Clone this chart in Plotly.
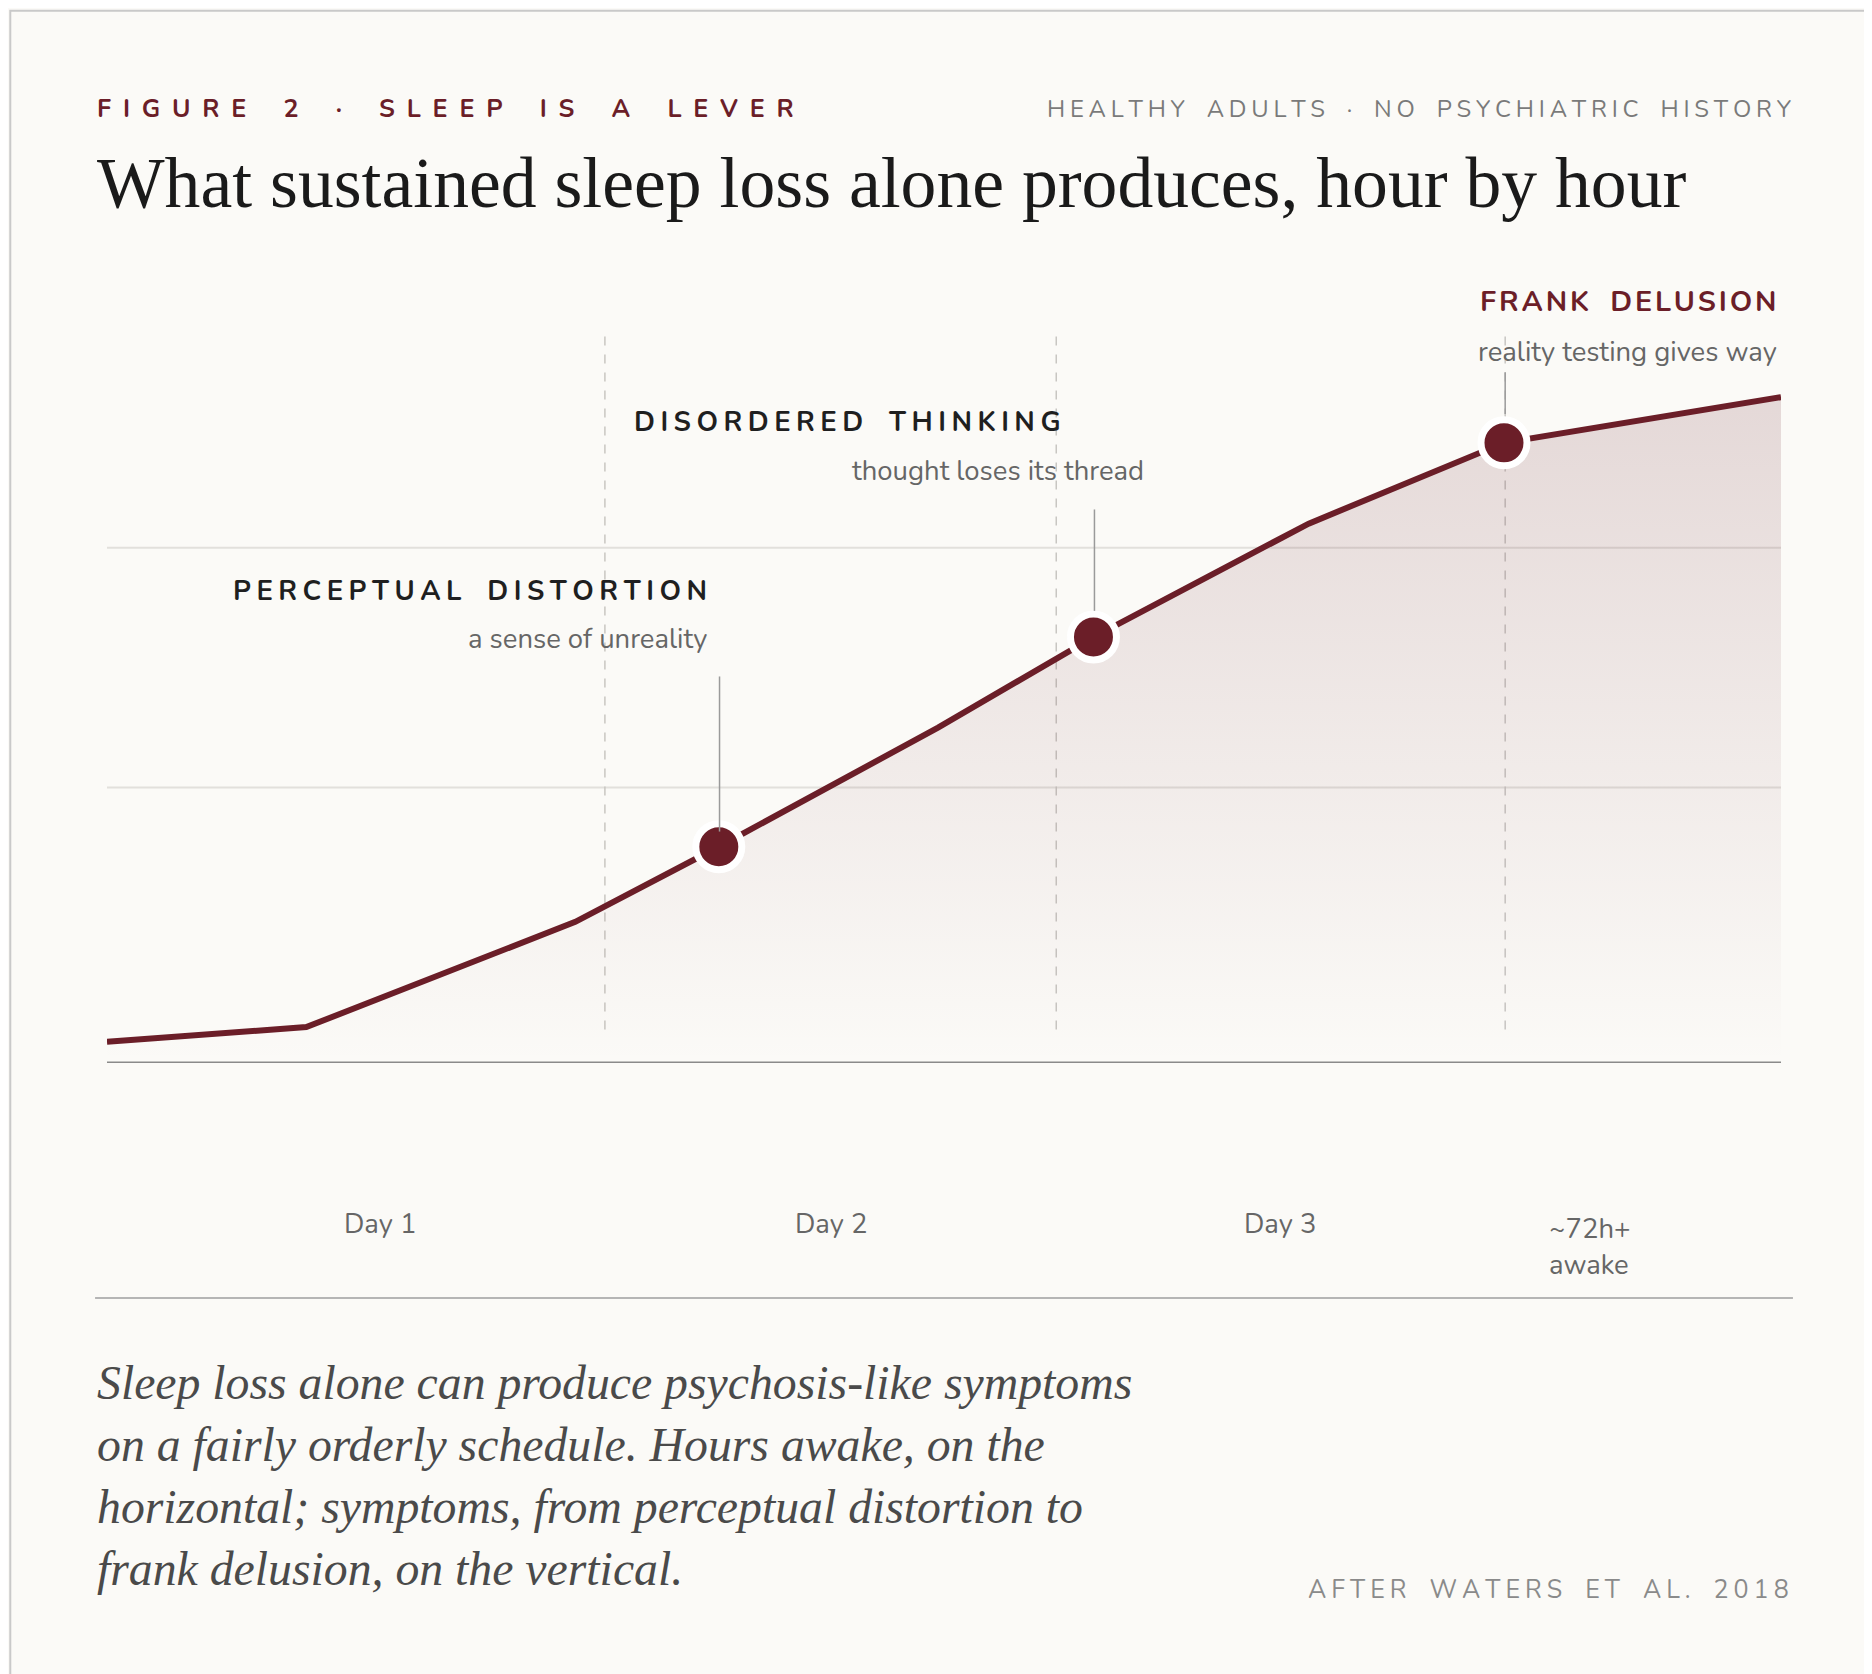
import plotly.graph_objects as go

W, H = 1872, 1674
s = W / 1568.0

# hours awake vs symptom severity
hours = [0, 10, 23.5, 30.7, 41.7, 49.5, 60.3, 70.1, 84]
sev = [2.6, 4.4, 17.3, 26.5, 41.1, 52.2, 66.1, 76.0, 81.6]
events = {"hours": [30.7, 49.5, 70.1], "sev": [26.5, 52.2, 76.0]}

# picture (1568 wide) px -> paper
def px(x): return (x - 83) / 1402.0
def py(y): return (884 - y) / 684.0
def hx(x): return (x - 83) / 1402.0 * 84
def sy(y): return (884 - y) / 684.0 * 100

wine = "#6b1e28"
fig = go.Figure()
fig.add_trace(go.Scatter(
    x=hours, y=sev, mode="lines", line=dict(color=wine, width=6),
    fill="tozeroy",
    fillgradient=dict(type="vertical",
                      colorscale=[[0, "rgba(110,40,50,0.0)"], [1, "rgba(110,40,50,0.16)"]]),
    hoverinfo="skip"))
fig.add_trace(go.Scatter(
    x=events["hours"], y=events["sev"], mode="markers",
    marker=dict(size=46, color=wine, line=dict(color="white", width=7)),
    hoverinfo="skip"))

shapes = []
# card border
shapes.append(dict(type="rect", xref="paper", yref="paper", x0=px(2), x1=px(1566), y0=py(1399), y1=py(2),
                   line=dict(color="#c9c9c9", width=2), layer="below"))
for g in [452, 653]:
    shapes.append(dict(type="line", xref="x", yref="y", x0=0, x1=84, y0=sy(g), y1=sy(g),
                       line=dict(color="#e2e0dc", width=2), layer="below"))
for d in [500, 878, 1254]:
    shapes.append(dict(type="line", xref="x", yref="y", x0=hx(d), x1=hx(d), y0=sy(275), y1=sy(862),
                       line=dict(color="#c8c6c2", width=1.5, dash="dash"), layer="below"))
shapes.append(dict(type="line", xref="x", yref="y", x0=0, x1=84, y0=0, y1=0,
                   line=dict(color="#8a8a8a", width=3)))
for xx, y0, y1 in [(596, 560, 690), (910, 420, 505), (1254, 305, 340)]:
    shapes.append(dict(type="line", xref="x", yref="y", x0=hx(xx), x1=hx(xx), y0=sy(y0), y1=sy(y1),
                       line=dict(color="#9a9a9a", width=1.5)))
shapes.append(dict(type="line", xref="paper", yref="paper", x0=px(73), x1=px(1495), y0=py(1081), y1=py(1081),
                   line=dict(color="#b5b5b5", width=2)))

sans = "Nunito, Lato, Noto Sans, sans-serif"
serif = "Liberation Serif, DejaVu Serif, serif"
ann = []
def txt(x, y, t, size, color, anchor="left", font=sans):
    ann.append(dict(xref="paper", yref="paper", x=px(x), y=py(y), text=t, showarrow=False,
                    xanchor=anchor, yanchor="middle", align="left",
                    font=dict(family=font, size=size * s, color=color)))

def spaced(t, gap="\u2009\u200a"):
    return gap.join(t).replace(" ", "\u00a0\u00a0")

txt(73, 84, "<b>" + spaced("FIGURE 2 · SLEEP IS A LEVER", "\u00a0\u2009") + "</b>", 21, wine)
txt(1495, 84, spaced("HEALTHY ADULTS · NO PSYCHIATRIC HISTORY", "\u2009"), 20, "#7a7a7a", "right")
txt(73, 146, "What sustained sleep loss alone produces, hour by hour", 60, "#1a1a1a", font=serif)
txt(587, 488, "<b>" + spaced("PERCEPTUAL DISTORTION", "\u2009") + "</b>", 23, "#1f1f1f", "right")
txt(587, 529, "a sense of unreality", 23, "#666", "right")
txt(523, 347, "<b>" + spaced("DISORDERED THINKING", "\u2009") + "</b>", 23, "#1f1f1f")
txt(953, 388, "thought loses its thread", 23, "#666", "right")
txt(1483, 246, "<b>" + spaced("FRANK DELUSION", "\u200a") + "</b>", 24, wine, "right")
txt(1483, 288, "reality testing gives way", 23, "#666", "right")
for x, t in [(312, "Day 1"), (689, "Day 2"), (1065, "Day 3")]:
    txt(x, 1019, t, 23, "#666", "center")
txt(1325, 1038, "~72h+<br>awake", 23, "#666", "center")
txt(73, 1230, "<i>Sleep loss alone can produce psychosis-like symptoms<br>on a fairly orderly schedule. Hours awake, on the<br>"
    "horizontal; symptoms, from perceptual distortion to<br>frank delusion, on the vertical.</i>", 40, "#4a4a4a",
    font=serif)
txt(1493, 1326, spaced("AFTER WATERS ET AL. 2018", "\u2009"), 21, "#8a8a8a", "right")

fig.update_layout(
    width=W, height=H, showlegend=False,
    margin=dict(l=round(83 * s), r=round(W - 1485 * s), t=round(200 * s), b=round(H - 884 * s)),
    paper_bgcolor="#fbfaf7", plot_bgcolor="rgba(0,0,0,0)",
    xaxis=dict(range=[0, 84], visible=False, fixedrange=True),
    yaxis=dict(range=[0, 100], visible=False, fixedrange=True),
    shapes=shapes, annotations=ann)
fig.write_html("out.html")
